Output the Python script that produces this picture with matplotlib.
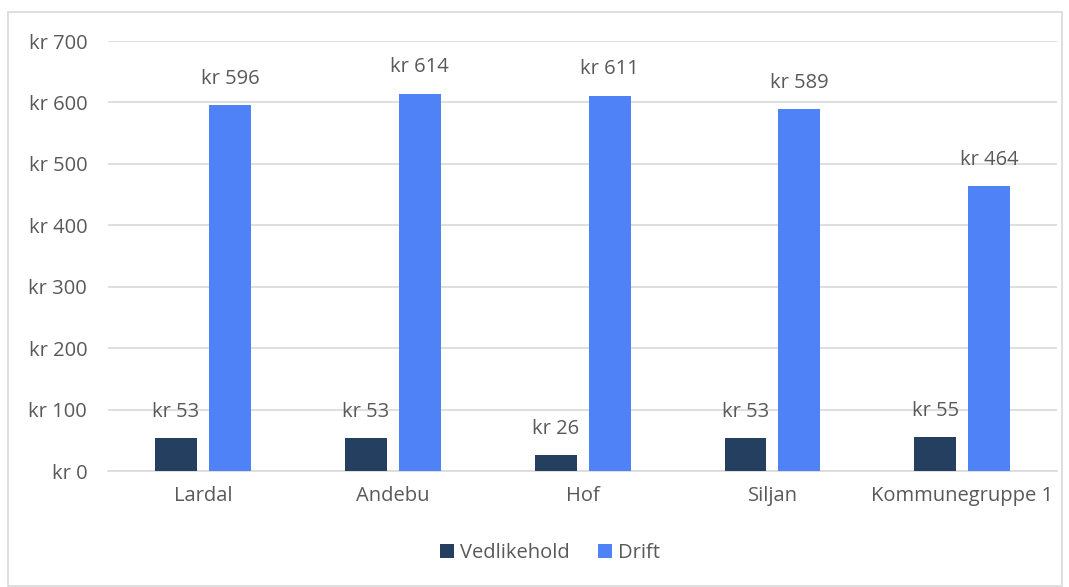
import numpy as np
import matplotlib.pyplot as plt
from matplotlib.patches import Rectangle

plt.rcParams['font.family'] = ['Open Sans', 'DejaVu Sans']

kommuner = ['Lardal', 'Andebu', 'Hof', 'Siljan', 'Kommunegruppe 1']
vedlikehold = [53, 53, 26, 53, 55]
drift = [596, 614, 611, 589, 464]
yticks = [0, 100, 200, 300, 400, 500, 600, 700]

dark = '#243f60'
blue = '#4f81f7'
txt = '#595959'
fs = 14.5

fig = plt.figure(figsize=(10.69, 5.87), dpi=100)
ax = fig.add_axes([0.101, 0.1976, 0.888, 0.7325])

# thin frame round the whole chart
fig.patches.append(Rectangle((8 / 1069, 0.002), 1054 / 1069, 1 - 12 / 587 - 0.002,
                             transform=fig.transFigure, fill=False,
                             edgecolor='#d9d9d9', linewidth=1.2))

x = np.arange(len(kommuner))
w = 0.221
off = 0.142
b1 = ax.bar(x - off, vedlikehold, w, color=dark, label='Vedlikehold', zorder=3)
b2 = ax.bar(x + off, drift, w, color=blue, label='Drift', zorder=3)

for bars, vals in ((b1, vedlikehold), (b2, drift)):
    for rect, v in zip(bars, vals):
        ax.annotate(f'kr {v}', (rect.get_x() + rect.get_width() / 2, v),
                    xytext=(0, 19), textcoords='offset points',
                    ha='center', va='center', fontsize=fs, color=txt)

ax.set_xlim(-0.5, len(kommuner) - 0.5)
ax.set_ylim(0, 700)
ax.set_yticks(yticks)
ax.set_yticklabels([f'kr {t}' for t in yticks])
ax.set_xticks(x)
ax.set_xticklabels(kommuner)
ax.tick_params(axis='both', length=0, labelsize=fs, labelcolor=txt)
ax.tick_params(axis='y', pad=15)
ax.tick_params(axis='x', pad=11)
ax.grid(axis='y', color='#d9d9d9', linewidth=1.2, zorder=0)
for s in ('top', 'right', 'left'):
    ax.spines[s].set_visible(False)
ax.spines['bottom'].set_color('#d9d9d9')
ax.spines['bottom'].set_linewidth(1.2)

fig.legend(loc='center', bbox_to_anchor=(550 / 1069, 1 - 553 / 587), ncol=2,
           frameon=False, fontsize=fs, labelcolor=txt, handlelength=0.7,
           handleheight=0.7, handletextpad=0.3, columnspacing=1.4)

fig.savefig('out.png', dpi=100)
